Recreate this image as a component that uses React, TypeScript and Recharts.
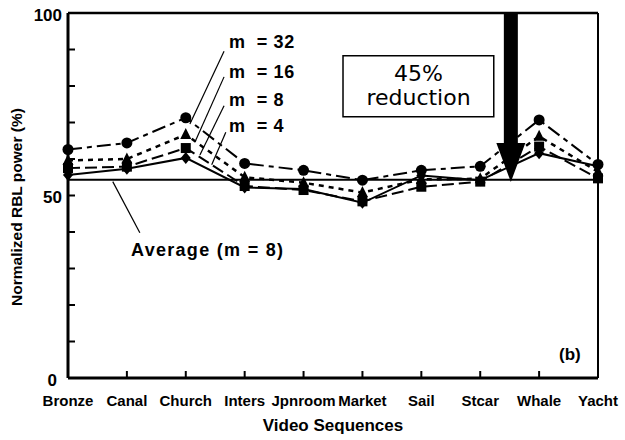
import React from "react";
import {
  LineChart, Line, XAxis, YAxis, ReferenceLine, ReferenceArea,
} from "recharts";

const sequences = ["Bronze", "Canal", "Church", "Inters", "Jpnroom", "Market", "Sail", "Stcar", "Whale", "Yacht"];
const m32 = [62.6, 64.4, 71.3, 58.8, 56.9, 54.2, 56.9, 58.0, 70.7, 58.5];
const m16 = [59.6, 60.0, 66.7, 55.0, 53.5, 50.8, 54.4, 54.6, 66.2, 56.5];
const m8 = [57.5, 57.9, 63.0, 52.6, 51.5, 48.4, 52.4, 53.8, 63.4, 54.7];
const m4 = [55.6, 57.3, 60.3, 52.2, 51.8, 48.0, 55.5, 54.2, 61.6, 58.0];
const averageM8 = 54.3;
const yTicks = [0, 10, 20, 30, 40, 50, 60, 70, 80, 90, 100];
const xTicks = sequences.map((_, i) => i);

const data = sequences.map((name, idx) => ({
  idx, name, m32: m32[idx], m16: m16[idx], m8: m8[idx], m4: m4[idx],
}));

const FONT = "Arial, 'Liberation Sans', sans-serif";
const Y_MARGIN = 6;
const X_MARGIN = 17;

const dotCircle = (p: any) => <circle key={`c${p.index}`} cx={p.cx} cy={p.cy} r={5.5} fill="#000" />;
const dotTriangle = (p: any) => (
  <polygon key={`t${p.index}`} fill="#000"
    points={`${p.cx},${p.cy - 6.5} ${p.cx - 5.5},${p.cy + 4.5} ${p.cx + 5.5},${p.cy + 4.5}`} />
);
const dotSquare = (p: any) => <rect key={`s${p.index}`} x={p.cx - 5} y={p.cy - 5} width={10} height={10} fill="#000" />;
const dotDiamond = (p: any) => (
  <polygon key={`d${p.index}`} fill="#000"
    points={`${p.cx},${p.cy - 6} ${p.cx + 5},${p.cy} ${p.cx},${p.cy + 6} ${p.cx - 5},${p.cy}`} />
);

// ticks point inwards, so draw them in the tick renderers
const YTick = (p: any) => {
  const v = p.payload.value;
  const ax = p.x + Y_MARGIN;
  return (
    <g>
      {v > 0 && v < 100 && (
        <path d={`M${ax},${p.y}h7`} stroke="#000" strokeWidth={2} fill="none" style={{ stroke: "#000" }} />
      )}
      {v % 50 === 0 && (
        <text x={p.x + (v === 0 ? -5 : 0)} y={p.y + 2} dy="0.35em" textAnchor="end"
          fontFamily={FONT} fontWeight="bold" fontSize={17} fill="#000">{v}</text>
      )}
    </g>
  );
};

const XTick = (p: any) => {
  const i = p.payload.value;
  const ay = p.y - X_MARGIN;
  return (
    <g>
      {i > 0 && i < 9 && (
        <path d={`M${p.x},${ay}v-7`} stroke="#000" strokeWidth={2} fill="none" style={{ stroke: "#000" }} />
      )}
      <text x={p.x} y={p.y} dy="0.71em" textAnchor="middle"
        fontFamily={FONT} fontWeight="bold" fontSize={15} fill="#000">{sequences[i]}</text>
    </g>
  );
};

const Arrow = (p: any) => {
  const x = p.x1;
  const top = Math.min(p.y1, p.y2);
  const tip = Math.max(p.y1, p.y2);
  const headLen = 39, shaft = 7, head = 14.5;
  return (
    <polygon fill="#000"
      points={`${x - shaft},${top} ${x + shaft},${top} ${x + shaft},${tip - headLen} ${x + head},${tip - headLen} ${x},${tip} ${x - head},${tip - headLen} ${x - shaft},${tip - headLen}`} />
  );
};

const leaders = [
  [{ x: 2.65, y: 89.5 }, { x: 2.07, y: 69.6 }],
  [{ x: 2.65, y: 82.5 }, { x: 2.16, y: 64.8 }],
  [{ x: 2.65, y: 74.6 }, { x: 2.24, y: 61.1 }],
  [{ x: 2.68, y: 67.3 }, { x: 2.44, y: 58.4 }],
  [{ x: 0.76, y: 53.8 }, { x: 1.22, y: 39.8 }],
];

const txt = (s: string, left: number, top: number, size: number, extra: any = {}) => (
  <div style={{
    position: "absolute", left, top, fontFamily: FONT, fontWeight: "bold", fontSize: size,
    lineHeight: `${size}px`, whiteSpace: "pre", color: "#000", ...extra,
  }}>{s}</div>
);

export default function App() {
  return (
    <div style={{ position: "fixed", left: 0, top: 0, width: 625, height: 440, background: "#fff" }}>
      <LineChart width={625} height={440} data={data} margin={{ top: 13, right: 27, bottom: 22, left: 8 }}>
        <XAxis type="number" dataKey="idx" domain={[0, 9]} ticks={xTicks} interval={0}
          height={40} tickSize={0} tickMargin={X_MARGIN} tickLine={false}
          axisLine={{ stroke: "#000", strokeWidth: 3 }}
          tick={<XTick />} />
        <YAxis type="number" domain={[0, 100]} ticks={yTicks} interval={0} width={60}
          tickSize={0} tickMargin={Y_MARGIN} tickLine={false}
          axisLine={{ stroke: "#000", strokeWidth: 3 }}
          tick={<YTick />} />
        <ReferenceLine y={100} stroke="#000" strokeWidth={2.5} />
        <ReferenceLine x={9} stroke="#000" strokeWidth={2} />
        <ReferenceLine y={averageM8} stroke="#000" strokeWidth={2} />
        {leaders.map((seg, i) => (
          <ReferenceLine key={i} segment={seg} stroke="#000" strokeWidth={1.2} />
        ))}
        <ReferenceArea x1={4.67} x2={7.23} y1={71.6} y2={88.3} fill="#fff" fillOpacity={1}
          stroke="#000" strokeWidth={1.5} />
        <Line dataKey="m32" stroke="#000" strokeWidth={2} strokeDasharray="14 5 5 5"
          dot={dotCircle} isAnimationActive={false} />
        <Line dataKey="m16" stroke="#000" strokeWidth={2.5} strokeDasharray="5 5"
          dot={dotTriangle} isAnimationActive={false} />
        <Line dataKey="m8" stroke="#000" strokeWidth={2} strokeDasharray="12 5"
          dot={dotSquare} isAnimationActive={false} />
        <Line dataKey="m4" stroke="#000" strokeWidth={2}
          dot={dotDiamond} isAnimationActive={false} />
        <ReferenceLine segment={[{ x: 7.52, y: 100 }, { x: 7.52, y: 53.7 }]} shape={Arrow} />
      </LineChart>

      {txt("m  = 32", 229, 33, 18, { letterSpacing: 0.6 })}
      {txt("m  = 16", 229, 63, 18, { letterSpacing: 0.6 })}
      {txt("m  = 8", 229, 91, 18, { letterSpacing: 0.6 })}
      {txt("m  = 4", 229, 117, 18, { letterSpacing: 0.6 })}
      {txt("Average (m = 8)", 131, 241, 18, { letterSpacing: 1.3 })}
      {txt("(b)", 559, 346, 17)}
      {txt("Video Sequences", 233, 417, 17, { width: 200, textAlign: "center" })}
      <div style={{
        position: "absolute", left: 343, top: 62, width: 151, textAlign: "center",
        fontFamily: "'DejaVu Sans', sans-serif", fontSize: 22, lineHeight: "24px", color: "#000",
      }}>45%<br />reduction</div>
      <div style={{
        position: "absolute", left: 17, top: 207, transform: "translate(-50%, -50%) rotate(-90deg)",
        fontFamily: FONT, fontWeight: "bold", fontSize: 15.5, whiteSpace: "nowrap", color: "#000",
      }}>Normalized RBL power (%)</div>
    </div>
  );
}
